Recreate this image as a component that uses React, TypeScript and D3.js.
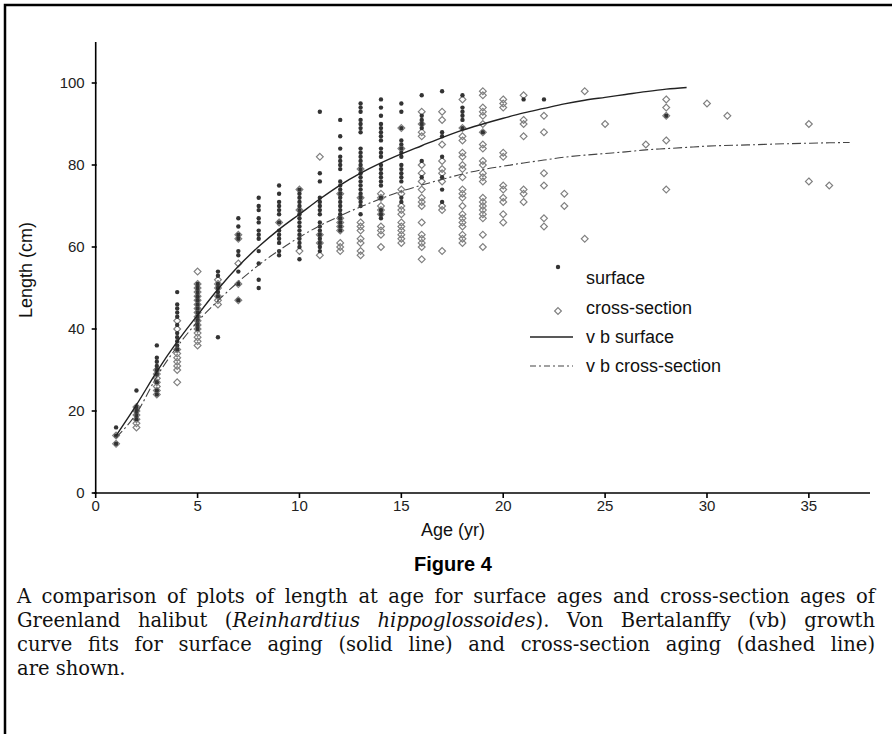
import { useLayoutEffect, useRef } from "react";
import * as d3 from "d3";

// length-at-age readings, one entry per age: [age, lengths (cm)]
const surfacePoints: [number, number[]][] = [
  [1, [16, 14, 12]],
  [2, [25, 21, 20, 19, 18]],
  [3, [36, 33, 32, 31, 30, 29, 27, 25, 24]],
  [4, [49, 46, 45, 44, 43, 41, 39, 38, 37, 36, 35]],
  [5, [51, 50, 49, 48, 47, 46, 45, 44, 43, 42, 41, 40]],
  [6, [54, 53, 51, 50, 49, 48, 38]],
  [7, [67, 65, 63, 62, 59, 58, 54, 51, 47]],
  [8, [72, 70, 69, 67, 66, 64, 63, 62, 59, 56, 52, 50]],
  [9, [75, 73, 71, 70, 69, 68, 66, 64, 63, 62, 61, 59, 58]],
  [10, [74, 73, 72, 71, 70, 69, 68, 67, 66, 65, 64, 63, 62, 61, 60, 57]],
  [11, [93, 78, 76, 72, 71, 70, 69, 68, 66, 65, 64, 63, 62, 61, 60, 59]],
  [12, [91, 87, 84, 82, 81, 80, 79, 76, 75, 74, 73, 72, 71, 70, 69, 68, 67, 66, 65, 64]],
  [13, [95, 94, 93, 91, 90, 89, 88, 84, 83, 82, 81, 80, 79, 78, 77, 76, 75, 74, 73, 72, 71, 70, 68]],
  [14, [96, 94, 92, 90, 89, 88, 87, 86, 84, 83, 82, 80, 79, 78, 77, 76, 75, 72, 69, 68, 67]],
  [15, [95, 93, 89, 86, 85, 84, 83, 82, 80, 79, 78, 77, 76, 72, 71]],
  [16, [97, 92, 91, 90, 89, 81, 77]],
  [17, [98, 88, 87, 82, 77, 74, 71]],
  [18, [97, 94, 93, 92, 91, 89]],
  [19, [88]],
  [21, [96]],
  [22, [96]],
  [28, [92]],
];

const crossPoints: [number, number[]][] = [
  [1, [14, 12]],
  [2, [21, 20, 19, 18, 17, 16]],
  [3, [30, 29, 28, 27, 26, 25, 24]],
  [4, [42, 40, 35, 34, 33, 32, 31, 30, 27]],
  [5, [54, 51, 50, 49, 48, 47, 46, 45, 44, 43, 42, 41, 40, 39, 38, 37, 36]],
  [6, [52, 51, 50, 48, 47, 46]],
  [7, [63, 62, 56, 51, 47]],
  [9, [66]],
  [10, [74, 69, 59]],
  [11, [82, 63, 61, 58]],
  [12, [73, 67, 66, 65, 64, 61, 60, 59]],
  [13, [79, 72, 66, 65, 64, 62, 61, 59, 58]],
  [14, [73, 72, 70, 69, 68, 65, 64, 63, 60]],
  [15, [89, 84, 74, 73, 70, 69, 68, 66, 65, 64, 63, 62, 61]],
  [16, [93, 90, 88, 87, 80, 78, 76, 74, 72, 71, 70, 66, 63, 62, 61, 60, 57]],
  [17, [93, 91, 85, 81, 79, 78, 76, 70, 69, 59]],
  [18, [96, 89, 87, 86, 83, 82, 80, 79, 77, 74, 73, 72, 70, 68, 67, 66, 65, 63, 62, 61]],
  [19, [98, 97, 94, 93, 92, 90, 88, 85, 84, 81, 80, 78, 77, 76, 72, 71, 70, 69, 68, 67, 63, 60]],
  [20, [96, 95, 94, 83, 82, 75, 74, 72, 71, 68, 66]],
  [21, [97, 91, 90, 87, 74, 73, 71]],
  [22, [92, 88, 78, 75, 67, 65]],
  [23, [73, 70]],
  [24, [98, 62]],
  [25, [90]],
  [27, [85]],
  [28, [96, 94, 92, 86, 74]],
  [30, [95]],
  [31, [92]],
  [35, [90, 76]],
  [36, [75]],
];

// von Bertalanffy fits
const vbSurfaceAges = [1, 2, 3, 4, 5, 6, 7, 8, 9, 10, 11, 12, 13, 14, 15, 16, 17, 18, 19, 20, 21, 22, 23, 24, 25, 26, 27, 28, 29];
const vbSurfaceLengths = [14, 21.5, 29.6, 36.9, 43.4, 49.7, 55.3, 60.1, 64.3, 68, 71.7, 75.1, 78, 80.5, 82.7, 84.7, 86.7, 88.5, 90, 91.4, 92.7, 93.8, 94.9, 95.8, 96.5, 97.2, 97.9, 98.5, 98.9];
const vbCrossAges = [1, 2, 3, 4, 5, 6, 7, 8, 9, 10, 11, 12, 13, 14, 15, 16, 17, 18, 19, 20, 21, 22, 23, 24, 25, 26, 27, 28, 29, 30, 32, 34, 37];
const vbCrossLengths = [13.5, 19.4, 28.4, 35.7, 41.8, 46.9, 51.5, 55.6, 59.2, 62.4, 65.2, 67.6, 69.8, 71.8, 73.6, 75.1, 76.5, 77.8, 78.9, 79.7, 80.5, 81.2, 81.9, 82.4, 82.8, 83.2, 83.7, 84, 84.3, 84.6, 84.9, 85.2, 85.5];

const xTicks = [0, 5, 10, 15, 20, 25, 30, 35];
const yTicks = [0, 20, 40, 60, 80, 100];

const legendLabels = ["surface", "cross-section", "v b surface", "v b cross-section"];

const captionLines = [
  "A comparison of plots of length at age for surface ages and cross-section ages of",
  "curve fits for surface aging (solid line) and cross-section aging (dashed line)",
  "are shown.",
];

const sans = "'Liberation Sans', Arial, sans-serif";
const serif = "'DejaVu Serif', serif";
const CAPTION_X = 17;
const CAPTION_W = 858;
const CAPTION_SIZE = 19.5;

export default function App() {
  const justifyRefs = useRef<(SVGTextElement | null)[]>([]);

  // justify caption lines by stretching the word spaces, like the printed page
  useLayoutEffect(() => {
    justifyRefs.current.forEach((el) => {
      if (!el) return;
      el.style.wordSpacing = "0px";
      const len = el.getComputedTextLength();
      const spaces = (el.textContent || "").split(" ").length - 1;
      if (spaces > 0) el.style.wordSpacing = (CAPTION_W - len) / spaces + "px";
    });
  }, []);

  const x = d3.scaleLinear().domain([0, 38]).range([95.7, 870]);
  const y = d3.scaleLinear().domain([0, 110]).range([493, 42]);

  const line = d3
    .line<[number, number]>()
    .x((d) => x(d[0]))
    .y((d) => y(d[1]))
    .curve(d3.curveMonotoneX);

  const surfaceCurve = line(vbSurfaceAges.map((a, i) => [a, vbSurfaceLengths[i]]));
  const crossCurve = line(vbCrossAges.map((a, i) => [a, vbCrossLengths[i]]));

  const diamond = (cx: number, cy: number, r = 3.4) =>
    `M${cx},${cy - r}L${cx + r},${cy}L${cx},${cy + r}L${cx - r},${cy}Z`;

  const crossFlat = crossPoints.flatMap(([a, ls]) => ls.map((l) => [a, l]));
  const surfFlat = surfacePoints.flatMap(([a, ls]) => ls.map((l) => [a, l]));

  const legendY = [278, 308, 337, 366];

  return (
    <svg
      width={892}
      height={734}
      style={{ position: "absolute", left: 0, top: 0, background: "#fff" }}
    >
      {/* frame */}
      <path d="M5,734V5H892" fill="none" stroke="#000" strokeWidth={2.5} />

      {/* axes */}
      <line x1={x(0)} x2={x(0)} y1={y(110)} y2={y(0)} stroke="#000" strokeWidth={1.6} />
      <line x1={x(0) - 2} x2={x(38)} y1={y(0)} y2={y(0)} stroke="#000" strokeWidth={1.6} />
      {yTicks.map((t) => (
        <g key={"y" + t}>
          <line x1={x(0) - 4} x2={x(0) + 1} y1={y(t)} y2={y(t)} stroke="#000" strokeWidth={1.6} />
          <text
            x={x(0) - 11}
            y={y(t)}
            dy="0.35em"
            textAnchor="end"
            fontFamily={sans}
            fontSize={15}
            fill="#222"
          >
            {t}
          </text>
        </g>
      ))}
      {xTicks.map((t) => (
        <g key={"x" + t}>
          <line x1={x(t)} x2={x(t)} y1={y(0)} y2={y(0) + 5} stroke="#000" strokeWidth={1.6} />
          <text
            x={x(t)}
            y={y(0) + 13}
            dy="0.35em"
            textAnchor="middle"
            fontFamily={sans}
            fontSize={15}
            fill="#222"
          >
            {t}
          </text>
        </g>
      ))}
      <text x={453} y={530} dy="0.35em" textAnchor="middle" fontFamily={sans} fontSize={18} fill="#111">
        Age (yr)
      </text>
      <text
        transform="translate(26,270) rotate(-90)"
        dy="0.35em"
        textAnchor="middle"
        fontFamily={sans}
        fontSize={18}
        fill="#111"
      >
        Length (cm)
      </text>

      {/* points */}
      {crossFlat.map(([a, l], i) => (
        <path key={"c" + i} d={diamond(x(a), y(l))} fill="none" stroke="#808080" strokeWidth={1.2} />
      ))}
      {surfFlat.map(([a, l], i) => (
        <circle key={"s" + i} cx={x(a)} cy={y(l)} r={2.2} fill="#333" />
      ))}

      {/* fitted curves */}
      <path d={surfaceCurve ?? ""} fill="none" stroke="#222" strokeWidth={1.4} />
      <path
        d={crossCurve ?? ""}
        fill="none"
        stroke="#444"
        strokeWidth={1.1}
        strokeDasharray="9,3,2,3"
      />

      {/* legend */}
      <circle cx={558} cy={267} r={2.2} fill="#333" />
      <path d={diamond(558, 311)} fill="none" stroke="#808080" strokeWidth={1.2} />
      <line x1={530} x2={573} y1={337} y2={337} stroke="#222" strokeWidth={1.4} />
      <line x1={530} x2={573} y1={366} y2={366} stroke="#444" strokeWidth={1.1} strokeDasharray="6,3,2,3" />
      {legendLabels.map((label, i) => (
        <text
          key={label}
          x={586}
          y={legendY[i]}
          dy="0.35em"
          fontFamily={sans}
          fontSize={18}
          fill="#111"
        >
          {label}
        </text>
      ))}

      {/* caption */}
      <text
        x={453}
        y={564}
        dy="0.35em"
        textAnchor="middle"
        fontFamily={sans}
        fontWeight="bold"
        fontSize={20}
        fill="#000"
      >
        Figure 4
      </text>
      <text
        ref={(el) => (justifyRefs.current[0] = el)}
        x={CAPTION_X}
        y={603}
        fontFamily={serif}
        fontSize={CAPTION_SIZE}
        fill="#111"
      >
        {captionLines[0]}
      </text>
      <text
        ref={(el) => (justifyRefs.current[1] = el)}
        x={CAPTION_X}
        y={627}
        fontFamily={serif}
        fontSize={CAPTION_SIZE}
        fill="#111"
      >
        Greenland halibut (<tspan fontStyle="italic">Reinhardtius hippoglossoides</tspan>). Von Bertalanffy (vb) growth
      </text>
      <text
        ref={(el) => (justifyRefs.current[2] = el)}
        x={CAPTION_X}
        y={651}
        fontFamily={serif}
        fontSize={CAPTION_SIZE}
        fill="#111"
      >
        {captionLines[1]}
      </text>
      <text x={CAPTION_X} y={675} fontFamily={serif} fontSize={CAPTION_SIZE} fill="#111">
        {captionLines[2]}
      </text>
    </svg>
  );
}
